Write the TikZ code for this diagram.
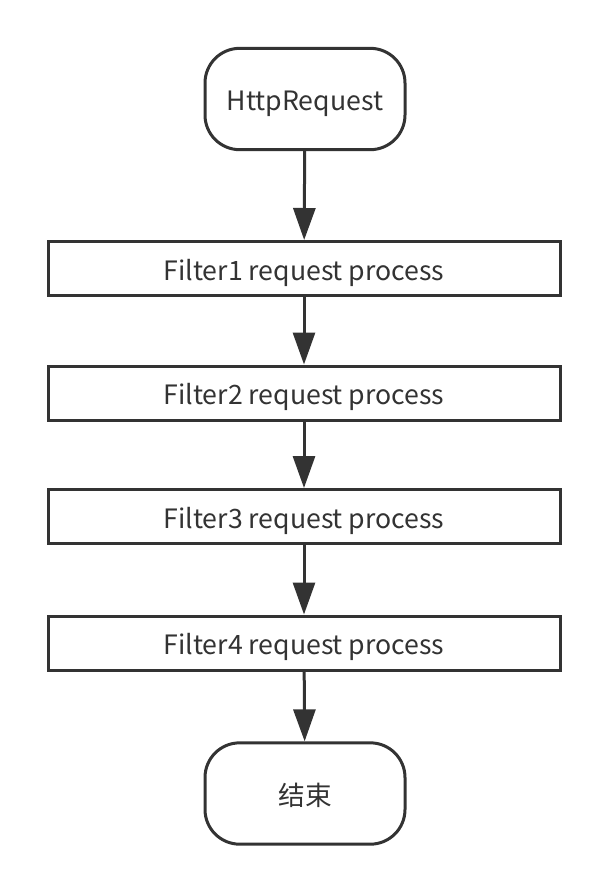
\documentclass[tikz,border=0pt]{standalone}
\usepackage{fontspec}
\setmainfont{Noto Sans CJK SC}
\usetikzlibrary{arrows.meta}
\definecolor{ink}{HTML}{333333}
\tikzset{
  base/.style={draw=ink, line width=2.25pt, text=ink, font=\fontsize{20}{24}\selectfont, inner sep=0pt, text height=17.5pt, text depth=0pt},
  term/.style={base, rounded corners=26pt, minimum width=150pt, minimum height=76pt},
  proc/.style={base, minimum width=384pt, minimum height=40.5pt},
  conn/.style={draw=ink, line width=2.25pt, -{Triangle[length=24pt,width=16.5pt]}}
}
\begin{document}
\begin{tikzpicture}[x=0.75pt,y=-0.75pt]
\useasboundingbox (0,0) rectangle (610,894);
\node[term] (start) at (305,99) {HttpRequest};
\node[proc] (f1) at (304,268.5) {Filter1 request process};
\node[proc] (f2) at (304,393) {Filter2 request process};
\node[proc] (f3) at (304,516.5) {Filter3 request process};
\node[proc] (f4) at (304,643) {Filter4 request process};
\node[term] (end) at (305,793.5) {结束};
\draw[conn] (start) -- (f1);
\draw[conn] (f1) -- (f2);
\draw[conn] (f2) -- (f3);
\draw[conn] (f3) -- (f4);
\draw[conn] (f4) -- (end);
\end{tikzpicture}
\end{document}
